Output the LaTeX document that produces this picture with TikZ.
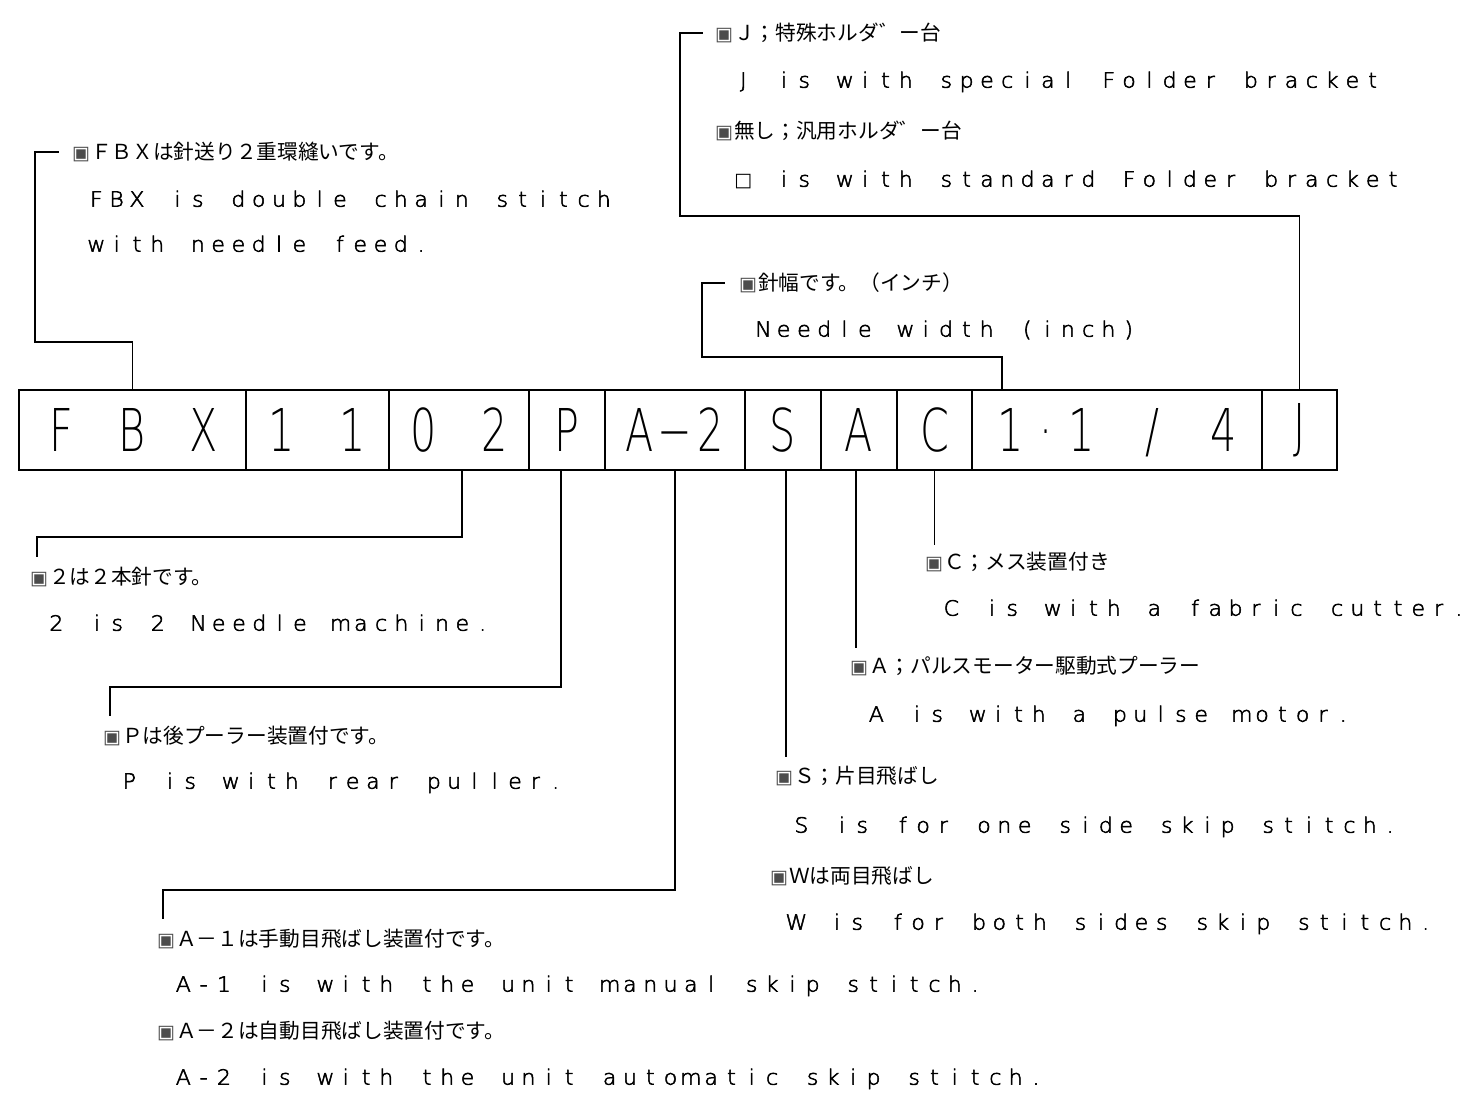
\documentclass[tikz,border=0pt]{standalone}
\usepackage{fontspec}
\usepackage{tikz}
\usetikzlibrary{positioning}
\setmainfont{DejaVu Sans}
\newfontfamily\codefont{DejaVuSans-ExtraLight.ttf}[FakeStretch=0.7]
\newfontfamily\engfont{DejaVuSans-ExtraLight.ttf}[FakeStretch=1.05,FakeBold=2.5]
\newfontfamily\jpfont{Noto Sans CJK JP}
\newfontfamily\markfont{DejaVu Sans}
\newcommand{\mk}{{\markfont\fontsize{19pt}{19pt}\selectfont\textcolor{black!70}{▣}}\hspace{1pt}}
\newcommand{\cells}[1]{\foreach \ch in {#1}{\makebox[35.5pt]{\ch}}}
\ExplSyntaxOn
\NewDocumentCommand\mono{m}{\str_map_inline:nn {#1} {\makebox[20.3pt]{##1}}}
\ExplSyntaxOff

\begin{document}
\begin{tikzpicture}[x=1pt, y=-1pt,
  cell/.style={draw, line width=1.6pt, outer sep=0pt, inner sep=0pt, minimum height=80pt,
    text height=43pt, text depth=0pt, font={\codefont\fontsize{59pt}{59pt}\selectfont}},
  jp/.style={anchor=west, inner sep=0pt, text height=17.6pt, text depth=2.4pt,
    font={\jpfont\fontsize{20.7pt}{20.7pt}\selectfont}},
  en/.style={anchor=west, inner sep=0pt, text height=15.3pt, text depth=0pt,
    font={\engfont\fontsize{21pt}{21pt}\selectfont}},
  lead/.style={line width=1.6pt}
]
\useasboundingbox (0,0) rectangle (1477,1102);

\node[cell, minimum width=227pt, anchor=west] (fbx) at (19,430) {\cells{F,,B,,X}};
\node[cell, minimum width=143pt, right=0pt of fbx] (c11) {\cells{1,,1}};
\node[cell, minimum width=140pt, right=0pt of c11] (c02) {\cells{0,,2}};
\node[cell, minimum width=76pt, right=0pt of c02] (cp) {\cells{P}};
\node[cell, minimum width=140pt, right=0pt of cp] (ca2) {\cells{A,−,2}};
\node[cell, minimum width=76pt, right=0pt of ca2] (cs) {\cells{S}};
\node[cell, minimum width=76pt, right=0pt of cs] (ca) {\cells{A}};
\node[cell, minimum width=75pt, right=0pt of ca] (cc) {\cells{C}};
\node[cell, minimum width=290pt, right=0pt of cc] (c14) {\cells{1,·,1,,/,,4}};
\node[cell, minimum width=75pt, right=0pt of c14] (cj) {\raisebox{5pt}{J}};

% upper notes
\node[jp] (jpfbx) at (72,152) {\mk ＦＢＸは針送り２重環縫いです。};
\node[en] (enfbx) at (86,199) {\mono{FBX is double chain stitch}};
\node[en] (enfeed) at (86,244) {\mono{with needle feed.}};
\node[jp] (jpj) at (715,33) {\mk Ｊ；特殊ホルダ゛ー台};
\node[en] (enj) at (733,80) {\mono{J is with special Folder bracket}};
\node[jp] (jpstd) at (715,131) {\mk 無し；汎用ホルダ゛ー台};
\node[en] (enstd) at (733,179) {\makebox[20.3pt]{\markfont\fontsize{19pt}{19pt}\selectfont □}\mono{ is with standard Folder bracket}};
\node[jp] (jpwid) at (739,283) {\mk 針幅です。（インチ）};
\node[en] (enwid) at (753,329) {\mono{Needle width (inch)}};

% lower notes
\node[jp] (jp2) at (30,577) {\mk ２は２本針です。};
\node[en] (en2) at (46,623) {\mono{2 is 2 Needle machine.}};
\node[jp] (jpp) at (103,736) {\mk Ｐは後プーラー装置付です。};
\node[en] (enp) at (119,781) {\mono{P is with rear puller.}};
\node[jp] (jpa1) at (157,939) {\mk Ａ－１は手動目飛ばし装置付です。};
\node[en] (ena1) at (173,984) {\mono{A-1 is with the unit manual skip stitch.}};
\node[jp] (jpa2) at (157,1031) {\mk Ａ－２は自動目飛ばし装置付です。};
\node[en] (ena2) at (173,1077) {\mono{A-2 is with the unit automatic skip stitch.}};
\node[jp] (jps) at (775,776) {\mk Ｓ；片目飛ばし};
\node[en] (ens) at (791,825) {\mono{S is for one side skip stitch.}};
\node[jp] (jpw) at (770,876) {\mk Ｗは両目飛ばし};
\node[en] (enw) at (786,922) {\mono{W is for both sides skip stitch.}};
\node[jp] (jpa) at (850,666) {\mk Ａ；パルスモーター駆動式プーラー};
\node[en] (ena) at (866,714) {\mono{A is with a pulse motor.}};
\node[jp] (jpc) at (925,562) {\mk Ｃ；メス装置付き};
\node[en] (enc) at (941,608) {\mono{C is with a fabric cutter.}};

% leaders
\draw[lead] (fbx.north) |- (35,342) |- ([xshift=-13pt]jpfbx.west);
\draw[lead] (cj.north) |- (680,216) |- ([xshift=-12pt]jpj.west);
\draw[lead] ([xshift=30pt]c14.north west) |- (702,357) |- ([xshift=-14pt]jpwid.west);
\draw[lead] ([xshift=3pt]c02.south) |- (37,537) -- ([xshift=7pt,yshift=10pt]jp2.north west);
\draw[lead] ([xshift=-6pt]cp.south) |- (110,687) -- ([xshift=7pt,yshift=10pt]jpp.north west);
\draw[lead] (ca2.south) |- (163,890) -- ([xshift=6pt,yshift=10pt]jpa1.north west);
\draw[lead, shorten >=9pt] ([xshift=3pt]cs.south) -- ([xshift=3pt]cs.south |- jps.north);
\draw[lead, shorten >=8pt] ([xshift=-3pt]ca.south) -- ([xshift=-3pt]ca.south |- jpa.north);
\draw[lead, shorten >=7pt] (cc.south) -- (cc.south |- jpc.north);
\end{tikzpicture}
\end{document}
